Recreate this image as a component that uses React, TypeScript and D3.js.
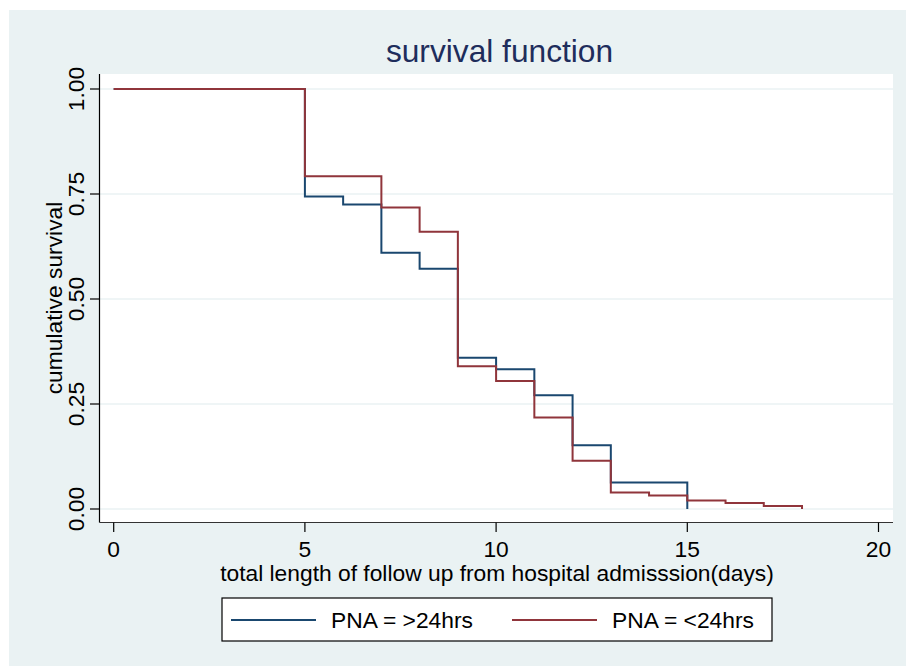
import * as d3 from "d3";
import React, { useEffect, useRef } from "react";

// Kaplan-Meier estimates
const timesOver24 = [0, 5, 6, 7, 8, 9, 10, 11, 12, 13, 15];
const survOver24 = [1, 0.744, 0.725, 0.61, 0.572, 0.36, 0.333, 0.271, 0.152, 0.063, 0];
const timesUnder24 = [0, 5, 7, 8, 9, 10, 11, 12, 13, 14, 15, 16, 17, 18];
const survUnder24 = [1, 0.792, 0.718, 0.66, 0.34, 0.305, 0.218, 0.115, 0.039, 0.032, 0.02, 0.014, 0.007, 0];

const xTicks = [0, 5, 10, 15, 20];
const yTicks = [0, 0.25, 0.5, 0.75, 1];
const seriesNames = ["PNA = >24hrs", "PNA = <24hrs"];
const seriesColors = ["#1a476f", "#90353b"];

const FONT = "'Liberation Sans', Arial, sans-serif";
const FS = "22.8px";

function App() {
  const ref = useRef<SVGSVGElement>(null);

  useEffect(() => {
    const svg = d3.select(ref.current);
    svg.selectAll("*").remove();

    const width = 906;
    const height = 666;
    const plot = { left: 99.5, right: 893, top: 74, bottom: 522.5 };

    svg.append("rect")
      .attr("x", 9).attr("y", 10)
      .attr("width", width - 9).attr("height", height - 10)
      .attr("fill", "#eaf2f3");

    svg.append("rect")
      .attr("x", plot.left).attr("y", plot.top)
      .attr("width", plot.right - plot.left).attr("height", plot.bottom - plot.top)
      .attr("fill", "#ffffff");

    const x = d3.scaleLinear().domain([0, 20]).range([113.7, 878.5]);
    const y = d3.scaleLinear().domain([0, 1]).range([509, 89]);

    // grid
    svg.append("g").selectAll("line").data(yTicks).enter().append("line")
      .attr("x1", plot.left).attr("x2", plot.right)
      .attr("y1", d => y(d)).attr("y2", d => y(d))
      .attr("stroke", "#eaf2f3").attr("stroke-width", 1.5);

    // series
    const series = [
      timesOver24.map((t, i) => [t, survOver24[i]] as [number, number]),
      timesUnder24.map((t, i) => [t, survUnder24[i]] as [number, number]),
    ];
    const line = d3.line<[number, number]>()
      .x(d => x(d[0])).y(d => y(d[1]))
      .curve(d3.curveStepAfter);
    series.forEach((s, i) => {
      svg.append("path")
        .attr("d", line(s))
        .attr("fill", "none")
        .attr("stroke", seriesColors[i])
        .attr("stroke-width", 2);
    });

    // axes
    svg.append("line")
      .attr("x1", plot.left).attr("x2", plot.left)
      .attr("y1", plot.top).attr("y2", plot.bottom)
      .attr("stroke", "#000").attr("stroke-width", 1.2);
    svg.append("line")
      .attr("x1", plot.left).attr("x2", plot.right)
      .attr("y1", plot.bottom).attr("y2", plot.bottom)
      .attr("stroke", "#333").attr("stroke-width", 1.2);

    const yt = svg.append("g").selectAll("g").data(yTicks).enter().append("g");
    yt.append("line")
      .attr("x1", 90).attr("x2", plot.left)
      .attr("y1", d => y(d)).attr("y2", d => y(d))
      .attr("stroke", "#000").attr("stroke-width", 1.2);
    yt.append("text")
      .attr("transform", d => `translate(83.5, ${y(d)}) rotate(-90)`)
      .attr("text-anchor", "middle")
      .style("font-family", FONT).style("font-size", FS)
      .text(d => d3.format(".2f")(d));

    const xt = svg.append("g").selectAll("g").data(xTicks).enter().append("g");
    xt.append("line")
      .attr("x1", d => x(d)).attr("x2", d => x(d))
      .attr("y1", plot.bottom).attr("y2", 532)
      .attr("stroke", "#000").attr("stroke-width", 1.2);
    xt.append("text")
      .attr("x", d => x(d)).attr("y", 557)
      .attr("text-anchor", "middle")
      .style("font-family", FONT).style("font-size", FS)
      .text(d => d);

    svg.append("text")
      .attr("x", 497).attr("y", 581)
      .attr("text-anchor", "middle")
      .style("font-family", FONT).style("font-size", FS)
      .text("total length of follow up from hospital admisssion(days)");

    svg.append("text")
      .attr("transform", `translate(62, 298) rotate(-90)`)
      .attr("text-anchor", "middle")
      .style("font-family", FONT).style("font-size", FS)
      .text("cumulative survival");

    svg.append("text")
      .attr("x", 499.5).attr("y", 62)
      .attr("text-anchor", "middle")
      .attr("fill", "#1e2d5c")
      .style("font-family", FONT).style("font-size", "31.7px")
      .text("survival function");

    // legend
    svg.append("rect")
      .attr("x", 222).attr("y", 598)
      .attr("width", 550).attr("height", 43)
      .attr("fill", "#fff").attr("stroke", "#000").attr("stroke-width", 1.2);
    const legendX = [231, 512];
    seriesNames.forEach((name, i) => {
      svg.append("line")
        .attr("x1", legendX[i]).attr("x2", legendX[i] + 85)
        .attr("y1", 620).attr("y2", 620)
        .attr("stroke", seriesColors[i]).attr("stroke-width", 2);
      svg.append("text")
        .attr("x", legendX[i] + 100).attr("y", 628)
        .style("font-family", FONT).style("font-size", FS)
        .text(name);
    });
  }, []);

  return (
    <svg ref={ref} width={906} height={666}
      style={{ position: "absolute", left: 0, top: 0 }} />
  );
}

export default App;
